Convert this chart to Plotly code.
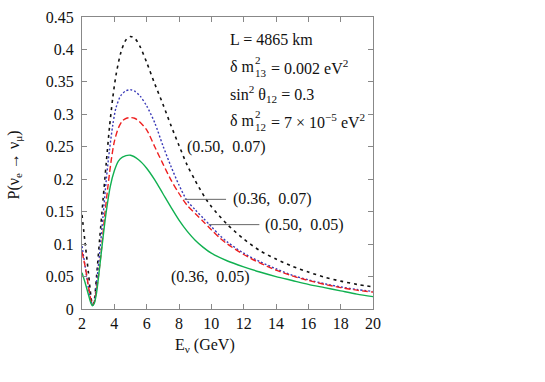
import plotly.graph_objects as go

# Energies (GeV) and oscillation probabilities
E_black = [2.0, 2.2, 2.4, 2.55, 2.65, 2.75, 2.9, 3.1, 3.3, 3.5, 3.7, 3.9, 4.1, 4.4, 4.7, 5.0, 5.3, 5.6, 6.0, 6.5, 7.0, 7.5, 8.0, 8.5, 9.0, 9.6, 10.0, 11.0, 12.0, 13.0, 14.0, 15.0, 16.0, 17.0, 18.0, 19.0, 20.0]
P_black = [0.145, 0.100, 0.055, 0.020, 0.006, 0.012, 0.050, 0.110, 0.168, 0.225, 0.280, 0.325, 0.360, 0.395, 0.414, 0.420, 0.416, 0.404, 0.380, 0.347, 0.316, 0.283, 0.252, 0.222, 0.198, 0.172, 0.158, 0.130, 0.108, 0.090, 0.077, 0.066, 0.057, 0.049, 0.043, 0.038, 0.034]

E_blue = [2.0, 2.2, 2.4, 2.55, 2.65, 2.75, 2.9, 3.1, 3.3, 3.5, 3.7, 3.9, 4.1, 4.4, 4.7, 5.0, 5.3, 5.6, 6.0, 6.5, 7.0, 7.5, 8.0, 8.5, 9.0, 9.5, 10.0, 10.5, 11.0, 12.0, 13.0, 14.0, 15.0, 16.0, 17.0, 18.0, 19.0, 20.0]
P_blue = [0.097, 0.065, 0.032, 0.013, 0.006, 0.010, 0.040, 0.088, 0.143, 0.199, 0.245, 0.283, 0.310, 0.329, 0.336, 0.338, 0.335, 0.328, 0.313, 0.287, 0.252, 0.220, 0.191, 0.167, 0.153, 0.140, 0.127, 0.114, 0.103, 0.086, 0.073, 0.062, 0.052, 0.045, 0.039, 0.034, 0.030, 0.027]

E_red = [2.0, 2.2, 2.4, 2.55, 2.65, 2.75, 2.9, 3.0, 3.2, 3.4, 3.6, 3.8, 4.0, 4.25, 4.5, 4.75, 5.0, 5.25, 5.5, 6.0, 6.5, 7.0, 7.5, 8.0, 8.5, 9.0, 9.5, 10.0, 10.5, 11.0, 12.0, 13.0, 14.0, 15.0, 16.0, 17.0, 18.0, 19.0, 20.0]
P_red = [0.088, 0.065, 0.035, 0.014, 0.006, 0.010, 0.030, 0.047, 0.091, 0.143, 0.188, 0.228, 0.258, 0.279, 0.290, 0.294, 0.295, 0.294, 0.290, 0.276, 0.250, 0.224, 0.199, 0.178, 0.160, 0.147, 0.135, 0.122, 0.110, 0.100, 0.084, 0.071, 0.060, 0.051, 0.044, 0.038, 0.033, 0.029, 0.026]

E_green = [2.0, 2.2, 2.4, 2.55, 2.65, 2.75, 2.9, 3.1, 3.3, 3.5, 3.75, 4.0, 4.25, 4.5, 5.0, 5.5, 6.0, 6.5, 7.0, 7.5, 8.0, 8.5, 9.0, 9.5, 10.0, 11.0, 12.0, 13.0, 14.0, 15.0, 16.0, 17.0, 18.0, 19.0, 20.0]
P_green = [0.056, 0.040, 0.022, 0.009, 0.005, 0.008, 0.025, 0.066, 0.110, 0.150, 0.189, 0.213, 0.228, 0.234, 0.237, 0.230, 0.217, 0.199, 0.178, 0.157, 0.137, 0.120, 0.106, 0.095, 0.086, 0.074, 0.065, 0.057, 0.050, 0.044, 0.038, 0.033, 0.028, 0.023, 0.019]

x_ticks = [2, 4, 6, 8, 10, 12, 14, 16, 18, 20]
y_ticks = [0, 0.05, 0.1, 0.15, 0.2, 0.25, 0.3, 0.35, 0.4, 0.45]
y_ticktext = ["0", "0.05", "0.1", "0.15", "0.2", "0.25", "0.3", "0.35", "0.4", "0.45"]

curve_labels = ["(0.50,  0.07)", "(0.36,  0.07)", "(0.50,  0.05)", "(0.36,  0.05)"]

FONT = "Liberation Serif, Times New Roman, serif"
FS = 16
SMALL = 11

W, H = 545, 382
# plot-area edges in window pixels
LEFT, RIGHT, TOP, BOTTOM = 82.3, 373.3, 17, 309.5
L_M, R_M, T_M, B_M = LEFT, W - RIGHT, TOP, H - BOTTOM
PW = RIGHT - LEFT
PH = BOTTOM - TOP

fig = go.Figure()
fig.add_trace(go.Scatter(x=E_black, y=P_black, mode="lines", line=dict(color="#111111", width=1.6, dash="3px,4px", shape="spline", smoothing=0.8)))
fig.add_trace(go.Scatter(x=E_blue, y=P_blue, mode="lines", line=dict(color="#3a3ab8", width=1.4, dash="2px,2px", shape="spline", smoothing=0.8)))
fig.add_trace(go.Scatter(x=E_red, y=P_red, mode="lines", line=dict(color="#ee2020", width=1.4, dash="6px,3px", shape="spline", smoothing=0.8)))
fig.add_trace(go.Scatter(x=E_green, y=P_green, mode="lines", line=dict(color="#10b050", width=1.4, shape="spline", smoothing=0.8)))

axis_common = dict(showline=True, linecolor="#888888", linewidth=1, mirror="ticks", automargin=False,
                   ticks="inside", ticklen=5, tickcolor="#888888", showgrid=False, zeroline=False,
                   tickfont=dict(family=FONT, size=FS, color="#111111"))

fig.update_xaxes(range=[2, 20], tickvals=x_ticks, ticktext=[str(v) for v in x_ticks], **axis_common)
fig.update_yaxes(range=[0, 0.45], tickvals=y_ticks, ticktext=y_ticktext, ticklabelstandoff=4, **axis_common)


def px_x(px):
    return (px - LEFT) / PW


def px_y(py):
    return 1 - (py - TOP) / PH


# axis titles
fig.add_annotation(xref="paper", yref="paper", x=px_x(205), y=px_y(346), text="E<sub>ν</sub> (GeV)",
                   showarrow=False, xanchor="center", yanchor="middle")
fig.add_annotation(xref="paper", yref="paper", x=px_x(15), y=px_y(165), text="P(ν<sub>e</sub> → ν<sub>μ</sub>)",
                   showarrow=False, xanchor="center", yanchor="middle", textangle=-90, borderpad=0)

# curve labels
fig.add_annotation(x=8.34, y=0.249, text=curve_labels[0], showarrow=False, xanchor="left", yanchor="middle")
fig.add_annotation(x=11.22, y=0.169, text=curve_labels[1], showarrow=False, xanchor="left", yanchor="middle")
fig.add_annotation(x=13.22, y=0.130, text=curve_labels[2], showarrow=False, xanchor="left", yanchor="middle")
fig.add_annotation(x=7.41, y=0.050, text=curve_labels[3], showarrow=False, xanchor="left", yanchor="middle")
fig.add_shape(type="line", x0=8.34, x1=10.91, y0=0.169, y1=0.169, line=dict(color="#666666", width=1))
fig.add_shape(type="line", x0=9.84, x1=12.97, y0=0.130, y1=0.130, line=dict(color="#666666", width=1))

# parameters block
x0 = 228
fig.add_annotation(xref="paper", yref="paper", x=px_x(x0), y=px_y(40), text="L = 4865 km",
                   showarrow=False, xanchor="left", yanchor="middle")
for yc, sub, rest in [(67, "13", "= 0.002 eV<sup>2</sup>"), (121, "12", "= 7 × 10<sup>−5</sup> eV<sup>2</sup>")]:
    fig.add_annotation(xref="paper", yref="paper", x=px_x(x0), y=px_y(yc), text="δ m",
                       showarrow=False, xanchor="left", yanchor="middle")
    fig.add_annotation(xref="paper", yref="paper", x=px_x(x0 + 25), y=px_y(yc - 7), text="2",
                       showarrow=False, xanchor="left", yanchor="middle", font=dict(size=SMALL))
    fig.add_annotation(xref="paper", yref="paper", x=px_x(x0 + 25), y=px_y(yc + 6), text=sub,
                       showarrow=False, xanchor="left", yanchor="middle", font=dict(size=SMALL))
    fig.add_annotation(xref="paper", yref="paper", x=px_x(x0 + 41), y=px_y(yc), text=rest,
                       showarrow=False, xanchor="left", yanchor="middle")
fig.add_annotation(xref="paper", yref="paper", x=px_x(x0), y=px_y(94), text="sin<sup>2</sup> θ<sub>12</sub> = 0.3",
                   showarrow=False, xanchor="left", yanchor="middle")

for a in fig.layout.annotations:
    sz = a.font.size if a.font and a.font.size else FS
    a.font = dict(family=FONT, size=sz, color="#111111")

fig.update_layout(width=W, height=H, autosize=False,
                  margin=dict(l=L_M, r=R_M, t=T_M, b=B_M, pad=0),
                  paper_bgcolor="white", plot_bgcolor="white", showlegend=False)

# remove the page's default 8px body margin so the figure fills the window exactly
fig.write_html("out.html", config={"displayModeBar": False, "staticPlot": True},
               post_script="document.body.style.margin='0';document.body.style.overflow='hidden';")
